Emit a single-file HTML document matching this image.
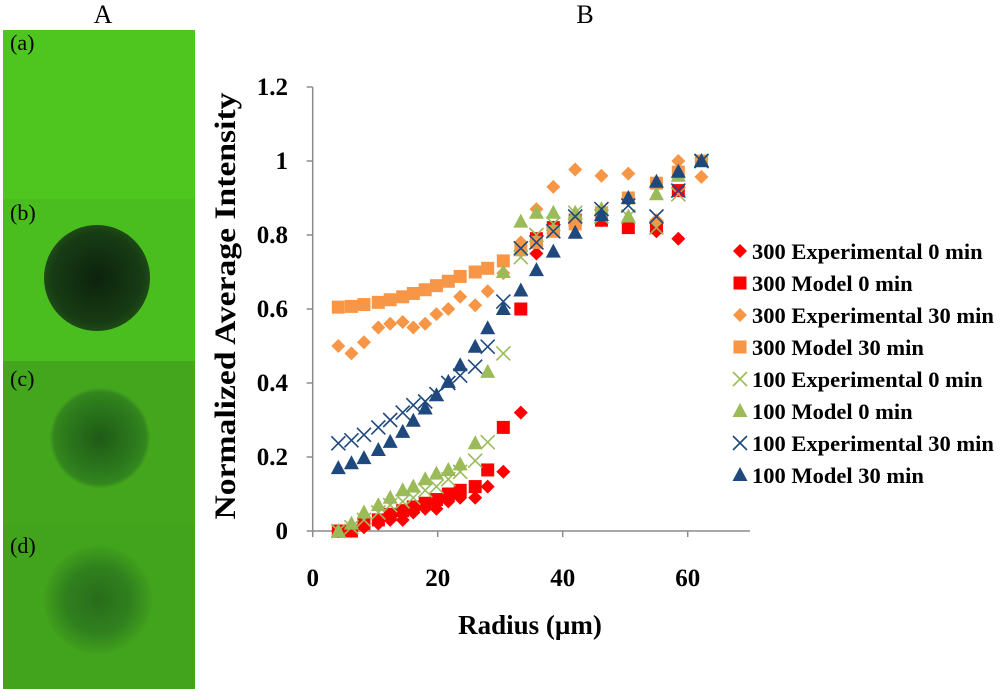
<!DOCTYPE html>
<html><head><meta charset="utf-8"><style>
body{margin:0;background:#fff;width:1000px;height:689px;overflow:hidden;font-family:"Liberation Serif",serif;}
svg{display:block}
</style></head><body>
<svg id="root" width="1000" height="689" viewBox="0 0 1000 689" xmlns="http://www.w3.org/2000/svg">
<defs>
<radialGradient id="gb" cx="0.5" cy="0.5" r="0.5"><stop offset="0" stop-color="#0c220c"/><stop offset="0.85" stop-color="#173c14"/><stop offset="1" stop-color="#1e4a16"/></radialGradient>
<radialGradient id="gc" cx="0.5" cy="0.5" r="0.5"><stop offset="0" stop-color="#1f5a16"/><stop offset="0.7" stop-color="#2c7a1c"/><stop offset="0.92" stop-color="#33861e"/><stop offset="1" stop-color="#42a21c"/></radialGradient>
<radialGradient id="gd" cx="0.5" cy="0.5" r="0.5"><stop offset="0" stop-color="#286c1a"/><stop offset="0.6" stop-color="#30801e"/><stop offset="1" stop-color="#40a01c"/></radialGradient>
</defs>
<g>
<text x="103" y="23" font-size="26" text-anchor="middle">A</text>
<rect x="3" y="30" width="192" height="169" fill="#4fc61f"/>
<rect x="3" y="199" width="192" height="162" fill="#4abd1f"/>
<rect x="3" y="361" width="192" height="163" fill="#43a61c"/>
<rect x="3" y="524" width="192" height="165" fill="#42a31c"/>
<ellipse cx="97" cy="278" rx="53" ry="53" fill="url(#gb)"/>
<ellipse cx="100" cy="438" rx="50" ry="50" fill="url(#gc)"/>
<ellipse cx="98" cy="600" rx="54" ry="54" fill="url(#gd)"/>
<text x="10" y="50" font-size="22">(a)</text>
<text x="10" y="220" font-size="22">(b)</text>
<text x="10" y="386" font-size="22">(c)</text>
<text x="10" y="553" font-size="22">(d)</text>
</g>
<text x="585" y="23" font-size="26" text-anchor="middle">B</text>
<g id="chart"></g>
</svg>
<script>
const xTicks=[0,20,40,60];
const yTicks=[0,0.2,0.4,0.6,0.8,1,1.2];
const yTickLabels=["0","0.2","0.4","0.6","0.8","1","1.2"];
const seriesNames=["300 Experimental 0 min","300 Model 0 min","300 Experimental 30 min","300 Model 30 min","100 Experimental 0 min","100 Model 0 min","100 Experimental 30 min","100 Model 30 min"];
const xA=[4.1,6.2,8.2,10.5,12.4,14.4,16.1,18,19.8,21.7,23.6,26,28,30.5,33.3,35.8,38.5,42,46.2,50.5,55,58.5,62.2];
const redExp0X=[4.1,6.2,8.2,10.5,12.4,14.4,16.1,18,19.8,21.7,23.6,26,28,30.5,33.3,35.8,38.5,42,46.2,50.5,55,58.5];
const redExp0Y=[0,0,0.01,0.02,0.03,0.03,0.05,0.06,0.06,0.08,0.09,0.09,0.12,0.16,0.32,0.75,0.82,0.84,0.84,0.83,0.81,0.79];
const redMod0Y=[0,0,0.02,0.03,0.045,0.055,0.065,0.075,0.085,0.1,0.11,0.12,0.165,0.28,0.6,0.79,0.82,0.84,0.84,0.82,0.82,0.92,1.0];
const orExp30Y=[0.5,0.48,0.51,0.55,0.56,0.565,0.55,0.56,0.586,0.6,0.633,0.61,0.648,0.697,0.78,0.87,0.93,0.977,0.96,0.966,0.84,1.0,0.957];
const orMod30Y=[0.605,0.607,0.612,0.618,0.625,0.633,0.642,0.652,0.663,0.675,0.688,0.7,0.71,0.73,0.76,0.78,0.81,0.83,0.86,0.9,0.94,0.97,1.0];
const grExp0Y=[0,0.01,0.03,0.05,0.07,0.08,0.09,0.11,0.12,0.14,0.16,0.19,0.24,0.48,0.74,0.8,0.83,0.86,0.85,0.85,0.82,0.91,1.0];
const grMod0Y=[0,0.02,0.05,0.07,0.09,0.11,0.12,0.14,0.155,0.165,0.18,0.237,0.43,0.7,0.836,0.86,0.86,0.86,0.87,0.85,0.91,0.96,1.0];
const blExp30Y=[0.237,0.245,0.26,0.28,0.3,0.32,0.34,0.35,0.37,0.4,0.42,0.444,0.498,0.62,0.764,0.78,0.81,0.85,0.87,0.88,0.85,0.92,1.0];
const blMod30Y=[0.17,0.183,0.197,0.219,0.241,0.268,0.298,0.331,0.367,0.403,0.448,0.498,0.548,0.6,0.65,0.705,0.755,0.806,0.854,0.9,0.944,0.971,1.0];

const NS="http://www.w3.org/2000/svg";
const g=document.getElementById('chart');
const X0=312.7,XS=6.25,Y0=531,YS=370;
function sx(v){return X0+v*XS;}
function sy(v){return Y0-v*YS;}
function mk(tag,attrs,parent){const e=document.createElementNS(NS,tag);for(const k in attrs)e.setAttribute(k,attrs[k]);(parent||g).appendChild(e);return e;}
let ax=mk('line',{x1:X0,y1:sy(0),x2:750,y2:sy(0),stroke:'#8c8c8c','stroke-width':1.5});


let ay=mk('line',{x1:X0,y1:sy(0),x2:X0,y2:sy(1.2),stroke:'#8c8c8c','stroke-width':1.5});


xTicks.forEach(t=>{
 mk('line',{x1:sx(t),y1:Y0,x2:sx(t),y2:Y0+6,stroke:'#8c8c8c','stroke-width':1.5});
 const tx=mk('text',{x:sx(t),y:586,'font-size':25,'font-weight':'bold','text-anchor':'middle'});
 tx.textContent=t;
 
 
});
yTicks.forEach((t,i)=>{
 mk('line',{x1:X0-6,y1:sy(t),x2:X0,y2:sy(t),stroke:'#8c8c8c','stroke-width':1.5});
 const tx=mk('text',{x:288,y:sy(t)+8,'font-size':25,'font-weight':'bold','text-anchor':'end'});
 tx.textContent=yTickLabels[i];
 
 
});
let xt=mk('text',{x:530,y:634,'font-size':27,'font-weight':'bold','text-anchor':'middle'});
xt.textContent='Radius (µm)';


let yt=mk('text',{x:0,y:0,'font-size':30,'font-weight':'bold','text-anchor':'middle',textLength:427,lengthAdjust:'spacingAndGlyphs',transform:'translate(235,306) rotate(-90)'});
yt.textContent='Normalized Average Intensity';



function marker(type,color,x,y,parent){
 if(type==='diamond')return mk('polygon',{points:`${x},${y-7} ${x+7},${y} ${x},${y+7} ${x-7},${y}`,fill:color},parent);
 if(type==='square')return mk('rect',{x:x-6.5,y:y-6.5,width:13,height:13,fill:color},parent);
 if(type==='triangle')return mk('polygon',{points:`${x},${y-8} ${x+7.5},${y+6} ${x-7.5},${y+6}`,fill:color},parent);
 return mk('path',{d:`M${x-7},${y-7}L${x+7},${y+7}M${x+7},${y-7}L${x-7},${y+7}`,stroke:color,'stroke-width':1.6,fill:'none'},parent);
}
const series=[
 {x:redExp0X,y:redExp0Y,t:'diamond',c:'#ff0000'},
 {x:xA,y:redMod0Y,t:'square',c:'#ff0000'},
 {x:xA,y:orExp30Y,t:'diamond',c:'#f79646'},
 {x:xA,y:orMod30Y,t:'square',c:'#f79646'},
 {x:xA,y:grExp0Y,t:'x',c:'#9bbb59'},
 {x:xA,y:grMod0Y,t:'triangle',c:'#9bbb59'},
 {x:xA,y:blExp30Y,t:'x',c:'#1f497d'},
 {x:xA,y:blMod30Y,t:'triangle',c:'#1f497d'}
];
series.forEach((s,si)=>{
 const sg=mk('g',{});
 
 
 s.y.forEach((v,i)=>{
  const m=marker(s.t,s.c,sx(s.x[i]),sy(v),sg);
  
  
 });
 const ly=251+si*32;
 const lg=mk('g',{});
 
 
 marker(s.t,s.c,740,ly,lg);
 const lt=mk('text',{x:752,y:ly+8,'font-size':22.5,'font-weight':'bold'},lg);
 lt.textContent=seriesNames[si];
});
</script>
</body></html>
